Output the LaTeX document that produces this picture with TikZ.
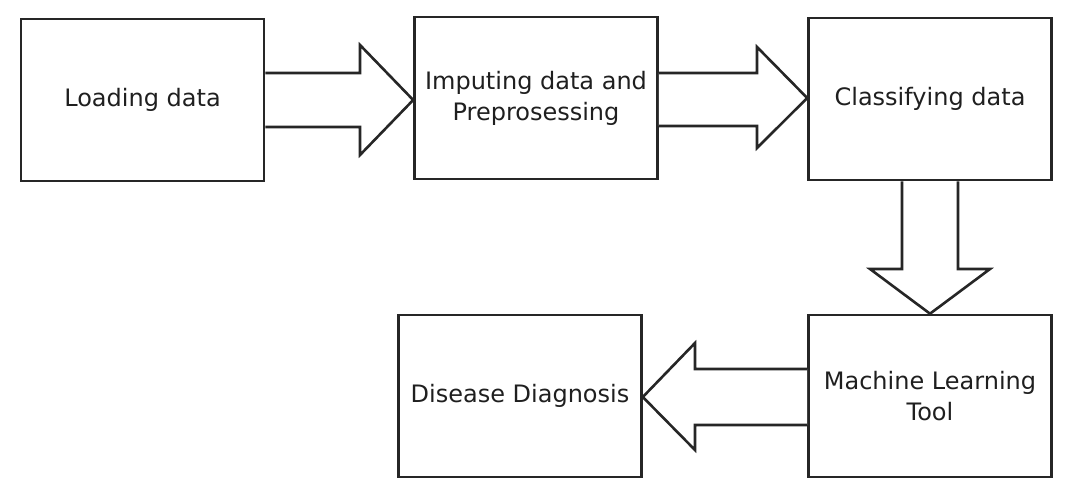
\documentclass[tikz,border=0pt]{standalone}
\usepackage{fontspec}
\setmainfont{DejaVu Sans}
\begin{document}
\begin{tikzpicture}[x=1pt,y=-1pt,
  box/.style={draw=black!85,line width=2.6pt,minimum width=243pt,minimum height=162pt,inner sep=0pt,
    font=\fontsize{24}{31}\selectfont,align=center,text=black!88},
  blockarrow/.style={draw=black!85,line width=2.6pt,fill=white,line join=miter}]
\useasboundingbox (0,0) rectangle (1068,489);
\node[box] (load) at (142.5,100) {Loading data};
\node[box] (imp) at (536,98) {Imputing data and\\Preprosessing};
\node[box] (cls) at (930,99) {Classifying data};
\node[box] (ml) at (930,396) {Machine Learning\\Tool};
\node[box] (dis) at (520,396) {Disease Diagnosis};
% arrow 1
\draw[blockarrow] (load.east |- 0,73) -- (360,73) -- (360,45) -- (imp.west |- 0,100)
  -- (360,155) -- (360,127) -- (load.east |- 0,127);
% arrow 2
\draw[blockarrow] (imp.east |- 0,73) -- (757,73) -- (757,47) -- (cls.west |- 0,98)
  -- (757,148) -- (757,126) -- (imp.east |- 0,126);
% arrow 3
\draw[blockarrow] (cls.south -| 902,0) -- (902,269) -- (870,269) -- (ml.north)
  -- (990,269) -- (958,269) -- (cls.south -| 958,0);
% arrow 4
\draw[blockarrow] (ml.west |- 0,369) -- (695,369) -- (695,343) -- (dis.east |- 0,397)
  -- (695,450) -- (695,425) -- (ml.west |- 0,425);
\end{tikzpicture}
\end{document}
